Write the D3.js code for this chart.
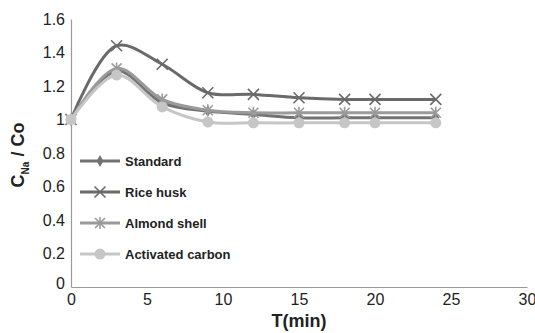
<!DOCTYPE html>
<html><head><meta charset="utf-8">
<script src="https://cdn.jsdelivr.net/npm/d3@7"></script>
<style>body{margin:0;background:#fff}svg{display:block}</style>
</head><body>
<svg id="c" width="535" height="333"></svg>
<script>
const times = [0, 3, 6, 9, 12, 15, 18, 20, 24];
const seriesNames = ["Standard", "Rice husk", "Almond shell", "Activated carbon"];
const standard = [1, 1.29, 1.10, 1.05, 1.03, 1.01, 1.01, 1.01, 1.01];
const riceHusk = [1, 1.44, 1.33, 1.16, 1.15, 1.13, 1.12, 1.12, 1.12];
const almondShell = [1, 1.305, 1.12, 1.055, 1.04, 1.04, 1.04, 1.04, 1.04];
const activatedCarbon = [1, 1.265, 1.075, 0.985, 0.98, 0.98, 0.98, 0.98, 0.98];
const xTicks = [0, 5, 10, 15, 20, 25, 30];
const yTicks = [0, 0.2, 0.4, 0.6, 0.8, 1, 1.2, 1.4, 1.6];

const series = [
  {name: seriesNames[0], values: standard, color: "#727272", marker: "diamond"},
  {name: seriesNames[1], values: riceHusk, color: "#6a6a6a", marker: "x"},
  {name: seriesNames[2], values: almondShell, color: "#9a9a9a", marker: "star"},
  {name: seriesNames[3], values: activatedCarbon, color: "#c6c6c6", marker: "circle"}
];

const svg = d3.select("#c");
const x = d3.scaleLinear().domain([0, 30]).range([71, 527]);
const y = d3.scaleLinear().domain([0, 1.6]).range([287, 19]);
const font = "Liberation Sans, Arial, sans-serif";

// axes
const xAxis = svg.append("g").attr("transform", `translate(0,${y(0)})`)
  .call(d3.axisBottom(x).tickValues(xTicks).tickSize(0).tickPadding(7).tickFormat(d3.format("d")));
xAxis.select(".domain").attr("stroke", "#9a9a9a").attr("stroke-width", 1.2);
xAxis.selectAll("text").attr("font-family", font).attr("font-size", 16).attr("fill", "#222");

const yAxis = svg.append("g").attr("transform", `translate(${x(0)},0)`)
  .call(d3.axisLeft(y).tickValues(yTicks).tickSize(0).tickPadding(6).tickFormat(d => d === 0 || d === 1 ? String(d) : d.toFixed(1)));
yAxis.select(".domain").attr("stroke", "#9a9a9a").attr("stroke-width", 1.2);
yAxis.selectAll("text").attr("font-family", font).attr("font-size", 16).attr("fill", "#222");
yAxis.selectAll(".tick").filter(d => d === 0).select("text").attr("dy", "0.1em");

// axis titles
svg.append("text").attr("x", (x(0) + x(30)) / 2).attr("y", 327)
  .attr("text-anchor", "middle").attr("font-family", font).attr("font-weight", "bold")
  .attr("font-size", 18).attr("fill", "#222").text("T(min)");
const yt = svg.append("text").attr("transform", "translate(24,155) rotate(-90)")
  .attr("text-anchor", "middle").attr("font-family", font).attr("font-weight", "bold")
  .attr("font-size", 18).attr("fill", "#222");
yt.append("tspan").text("C");
yt.append("tspan").attr("font-size", 10).attr("dy", 5).text("Na");
yt.append("tspan").attr("dy", -5).text(" / Co");

function drawMarker(g, type, cx, cy, color) {
  if (type === "diamond") {
    g.append("path").attr("d", d3.symbol().type(d3.symbolDiamond).size(40)())
      .attr("transform", `translate(${cx},${cy})`).attr("fill", color);
  } else if (type === "x") {
    const s = 5.5;
    g.append("path").attr("d", `M${cx-s},${cy-s}L${cx+s},${cy+s}M${cx-s},${cy+s}L${cx+s},${cy-s}`)
      .attr("stroke", color).attr("stroke-width", 1.6).attr("fill", "none");
  } else if (type === "star") {
    const s = 5;
    g.append("path").attr("d", `M${cx-s},${cy-s}L${cx+s},${cy+s}M${cx-s},${cy+s}L${cx+s},${cy-s}M${cx},${cy-s-1}L${cx},${cy+s+1}`)
      .attr("stroke", color).attr("stroke-width", 1.6).attr("fill", "none");
  } else {
    g.append("circle").attr("cx", cx).attr("cy", cy).attr("r", 5.5).attr("fill", color);
  }
}

const line = d3.line().x((d, i) => x(times[i])).y(d => y(d)).curve(d3.curveCatmullRom.alpha(0.5));

series.forEach(s => {
  const g = svg.append("g");
  g.append("path").attr("d", line(s.values)).attr("fill", "none")
    .attr("stroke", s.color).attr("stroke-width", 3).attr("stroke-linejoin", "round");
  s.values.forEach((v, i) => drawMarker(g, s.marker, x(times[i]), y(v), s.color));
});

// legend
const legY = [161, 192, 223, 254];
series.forEach((s, i) => {
  const g = svg.append("g");
  g.append("line").attr("x1", 80).attr("x2", 120).attr("y1", legY[i]).attr("y2", legY[i])
    .attr("stroke", s.color).attr("stroke-width", 3);
  drawMarker(g, s.marker, 100, legY[i], s.color);
  g.append("text").attr("x", 125).attr("y", legY[i]).attr("dy", "0.35em")
    .attr("font-family", font).attr("font-weight", "bold").attr("font-size", 13)
    .attr("fill", "#222").text(s.name);
});
</script>
</body></html>
